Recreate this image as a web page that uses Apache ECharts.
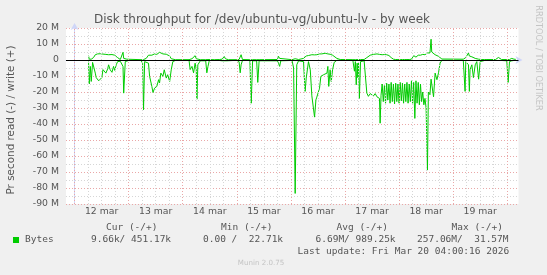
<!DOCTYPE html>
<html><head><meta charset="utf-8">
<script src="https://cdn.jsdelivr.net/npm/echarts@6/dist/echarts.min.js"></script>
<style>html,body{margin:0;padding:0;background:#f0f0f0;}#c{width:547px;height:275px;}</style>
</head><body><div id="c"></div>
<script>
// time in hours since 12 mar 00:00
const hours = [
 6.2,6.5,7.0,7.4,8.0,8.4,9.2,9.6,10.2,10.7,11.4,12.1,12.6,13.2,13.9,14.7,15.1,15.8,16.6,17.3,17.8,18.5,19.1,19.5,20.3,21.0,21.5,21.8,22.5,23.2,
 24,29.5,30.2,30.6,31.1,31.8,32.8,33.3,34.3,34.8,35.5,36.5,37.3,37.7,38.3,39.2,39.8,40.7,41.3,42.2,42.9,43.6,44.7,
 48,50.8,51.3,52.1,52.8,53.5,54.0,54.3,54.7,55.8,58.2,58.7,59.2,59.8,62.0,62.4,62.8,64.2,64.6,65.5,66.4,67.0,67.6,68.3,
 72,73.0,73.5,73.9,74.5,77.8,78.4,79.0,80.8,81.3,81.9,90.0,90.5,91.0,91.5,96.5,
 97.2,97.9,98.6,99.4,101.6,102.3,102.8,103.4,103.8,104.6,105.3,106.0,106.5,107.1,107.5,108.3,108.7,109.3,109.7,110.5,111.2,112.0,112.4,112.8,113.4,113.9,114.5,115.2,116.4,117.9,
 123.5,124.2,124.6,125.0,125.4,125.7,126.0,126.4,126.9,128.5,129.0,129.7,130.4,131.2,131.9,132.6,133.4,134.2,134.9,135.3,135.6,136.0,
 136.5,137,137.5,138,138.5,139,139.5,140,140.5,141,141.5,142,142.5,143,143.5,144,144.5,145,145.5,146,146.5,147,147.5,148,148.5,149,149.5,150,150.5,151,151.5,152,152.5,153,153.5,154,154.5,155,
 155.5,156.0,156.6,157.0,157.7,158.2,158.5,159.3,160.0,160.8,161.5,162.2,163.0,
 172.5,173.3,173.6,174.1,174.8,175.2,175.5,176.3,177.0,177.8,178.5,179.3,180.0,180.7,182.0,182.4,183.0,186.8,187.4,188.1,188.8,189.5,191.8,192.4,193.0,194.0,195.0,195.8
];
// write (+), MB/s
const writeM = [
 2.7,0.5,0.3,0.5,0.3,1.5,3.3,3.6,3.8,3.6,3.9,3.5,3.7,3.4,3.5,3.0,3.3,3.1,3.4,2.8,3.0,2.5,1.5,0.5,0.3,1.0,4.8,1.0,0.3,0.5,
 0.2,0.2,0.5,0.3,0.2,1.0,3.0,3.3,3.0,3.3,3.8,3.5,4.2,4.8,4.0,3.8,3.5,3.6,3.3,2.5,0.8,0.3,0.2,
 0.2,0.2,1.0,0.8,0.5,2.7,0.8,0.3,0.5,0.2,0.2,0.5,0.3,0.2,0.2,1.0,0.2,0.3,0.8,0.5,2.2,0.7,1.0,0.2,
 0.2,0.3,1.0,3.3,0.3,0.2,0.5,0.2,0.2,0.5,0.2,0.3,2.3,1.0,0.3,0.2,
 0.5,0.8,0.3,0.3,1.0,2.0,2.5,2.3,2.8,3.0,3.3,3.0,3.2,3.5,3.3,3.6,3.8,4.0,3.8,4.3,4.2,4.0,3.8,3.9,3.6,3.5,3.0,2.5,1.0,0.3,
 0.2,0.3,0.2,0.5,0.3,0.3,0.3,0.5,0.3,0.3,0.8,1.5,2.4,3.0,4.0,3.5,4.2,3.8,4.4,3.5,3.8,3.3,
 3.3,3.0,3.4,3.2,3.3,3.0,2.8,2.3,1.5,1.0,0.5,0.4,0.3,0.3,0.3,0.3,0.3,0.3,0.3,0.3,0.3,0.3,0.3,0.3,0.3,0.3,0.5,1.5,2.7,1.5,1.8,2.5,3.0,3.3,3.0,3.3,3.5,3.3,
 3.3,4.0,4.4,5.0,4.4,13.0,5.0,4.0,3.3,3.0,2.3,1.5,0.6,
 0.5,1.0,1.5,2.0,4.4,2.5,3.0,2.0,1.5,1.0,0.8,0.5,0.4,0.3,0.3,1.2,0.3,0.3,1.2,1.6,1.2,0.3,0.3,0.5,0.3,1.0,0.5,0.4
];
// read (-), MB/s drawn negative
const readM = [
 -1,-15,-4,-13.4,-1.5,-0.8,-8.2,-11,-11.3,-13,-12,-11,-6,-5,-8.2,-5.5,-3,-6.1,-7.7,-4,-6.5,-3,-1,-0.5,-0.8,-1,-4,-20.7,-1,-0.5,
 -0.3,-0.3,-2,-31.1,-1,-0.8,-2,-10.2,-16.5,-20.3,-17.6,-16.5,-12.3,-14.4,-8.2,-10.2,-6.1,-11.3,-9.2,-13.4,-6.1,-1,-0.3,
 -0.2,-0.2,-6,-4,-8,-2,-6,-24.5,-3,-0.5,-0.5,-8,-4,-0.3,-0.3,-1,-0.3,-0.3,-1,-0.5,-0.5,-1,-0.5,-0.2,
 -0.2,-1,-8,-3,-0.3,-0.3,-27,-0.5,-0.5,-14,-0.5,-0.5,-2,-4,-0.5,-0.3,
 -5,-83.4,-3,-0.5,-1,-19.6,-11.3,-12.3,-1.0,-6.1,-22.4,-21.7,-35.7,-24.9,-23.2,-22.8,-17.6,-10.2,-11.3,-9.2,-10.2,-8.2,-4,-16.5,-6.1,-13.4,-6.1,-1.5,-0.2,-0.2,
 -0.2,-7,-1,-15.5,-2,-11,-1.5,-24,-1,-0.5,-1,-20.7,-22.7,-21,-21.7,-22.5,-21,-23,-22,-24,-39.5,-22,
 -15,-26,-16,-27,-14.5,-25,-15,-27,-14,-26,-15,-27.5,-14.5,-26,-15,-27,-14,-25.5,-14.5,-27,-15,-26,-14,-27,-15,-26,-13,-27,-14,-36.5,-13,-27,-14,-28,-15,-26,-20,-28,
 -24,-30,-68.8,-20,-21.7,-12,-12,-23,-8.2,-12.3,-8,-1.9,-0.2,
 -0.2,-19.6,-1,-1,-3,-19.6,-6,-3,-11,-3,-1,-12,-1,-0.5,-0.3,-1.5,-0.3,-0.3,-0.5,-0.3,-0.3,-0.3,-0.5,-14,-1,-0.5,-0.3,-0.3
];
const dayLabels = ['12 mar','13 mar','14 mar','15 mar','16 mar','17 mar','18 mar','19 mar'];
const dayNoons = [12,36,60,84,108,132,156,180];
const midnights = [0,24,48,72,96,120,144,168,192];
const quarterDays = [6,12,18,30,36,42,54,60,66,78,84,90,102,108,114,126,132,138,150,156,162,174,180,186];

const writeData = hours.map((t,i)=>[t, writeM[i]]);
const readData = hours.map((t,i)=>[t, readM[i]]);

const TXT = '#555';
const SANS = 'DejaVu Sans';
const MONO = 'DejaVu Sans Mono';
const mono = 9.5;
function mtext(x,y,t){return {type:'text',x:x,y:y,silent:true,style:{text:t,fontFamily:MONO,fontSize:mono,fill:TXT,align:'left',verticalAlign:'middle'}};}

const chart = echarts.init(document.getElementById('c'));
chart.setOption({
  backgroundColor:'#f0f0f0',
  animation:false,
  grid:{left:66,top:28,width:452.5,height:176,show:true,backgroundColor:'#ffffff',borderWidth:0},
  xAxis:{type:'value',min:-3.8,max:197,
    axisLine:{show:true,lineStyle:{color:'#cfd6f8',width:1},symbol:['none','arrow'],symbolSize:[6,7],symbolOffset:[0,4]},
    axisTick:{show:false},splitLine:{show:false},
    axisLabel:{customValues:dayNoons,fontFamily:SANS,fontSize:9.3,color:TXT,margin:3,
      formatter:function(v){const i=dayNoons.indexOf(Math.round(v));return i>=0?dayLabels[i]:'';}}},
  yAxis:{type:'value',min:-90,max:20,interval:10,
    axisLine:{show:true,lineStyle:{color:'#cfd6f8',width:1},symbol:['none','arrow'],symbolSize:[6,7],symbolOffset:[0,5]},
    axisTick:{show:false},
    axisLabel:{fontFamily:SANS,fontSize:9.3,color:TXT,margin:7,formatter:function(v){return v===0?'0':v+' M';}},
    splitLine:{show:true,lineStyle:{color:'#eaa7a7',type:[1,2],width:1}},
    minorTick:{show:false,splitNumber:2},
    minorSplitLine:{show:true,lineStyle:{color:'#d6d6d6',type:[1,2],width:1}}},
  series:[
    {type:'line',data:[],silent:true,z:1,
     markLine:{silent:true,symbol:['none','none'],label:{show:false},animation:false,
       lineStyle:{color:'#d6d6d6',type:[1,2],width:1},
       data:quarterDays.filter(v=>v%24!==0).map(v=>({xAxis:v}))}},
    {type:'line',data:[],silent:true,z:1,
     markLine:{silent:true,symbol:['none','none'],label:{show:false},animation:false,
       lineStyle:{color:'#eaa7a7',type:[1,2],width:1},
       data:midnights.map(v=>({xAxis:v}))}},
    {name:'write',type:'line',data:writeData,showSymbol:false,symbol:'none',z:3,
     lineStyle:{color:'#00cc00',width:1},silent:true},
    {name:'read',type:'line',data:readData,showSymbol:false,symbol:'none',z:3,
     lineStyle:{color:'#00cc00',width:1},silent:true},
    {type:'line',data:[],silent:true,z:5,
     markLine:{silent:true,symbol:['none','none'],label:{show:false},animation:false,
       lineStyle:{color:'#000000',type:'solid',width:1},data:[{yAxis:0}]}}
  ],
  graphic:[
    {type:'text',x:262,y:20,silent:true,style:{text:'Disk throughput for /dev/ubuntu-vg/ubuntu-lv - by week',fontFamily:SANS,fontSize:12,fill:TXT,align:'center',verticalAlign:'middle'}},
    {type:'text',x:11,y:120,rotation:Math.PI/2,silent:true,style:{text:'Pr second read (-) / write (+)',fontFamily:SANS,fontSize:10.4,fill:TXT,align:'center',verticalAlign:'middle'}},
    {type:'text',x:538,y:58,rotation:-Math.PI/2,silent:true,style:{text:'RRDTOOL / TOBI OETIKER',fontFamily:SANS,fontSize:8.2,fill:'#c4c4c4',align:'center',verticalAlign:'middle'}},
    mtext(106,227.5,'Cur (-/+)'),
    mtext(221,227.5,'Min (-/+)'),
    mtext(336.5,227.5,'Avg (-/+)'),
    mtext(451.5,227.5,'Max (-/+)'),
    {type:'rect',shape:{x:13,y:237,width:6,height:6},silent:true,style:{fill:'#00cc00'}},
    mtext(25,239.8,'Bytes'),
    mtext(91,239.8,'9.66k/ 451.17k'),
    mtext(203,239.8,'0.00 /  22.71k'),
    mtext(315.5,239.8,'6.69M/ 989.25k'),
    mtext(417,239.8,'257.06M/  31.57M'),
    mtext(297.5,251.8,'Last update: Fri Mar 20 04:00:16 2026'),
    {type:'text',x:261,y:263.6,silent:true,style:{text:'Munin 2.0.75',fontFamily:SANS,fontSize:7.1,fill:'#c4c4c4',align:'center',verticalAlign:'middle'}}
  ]
});
</script></body></html>
